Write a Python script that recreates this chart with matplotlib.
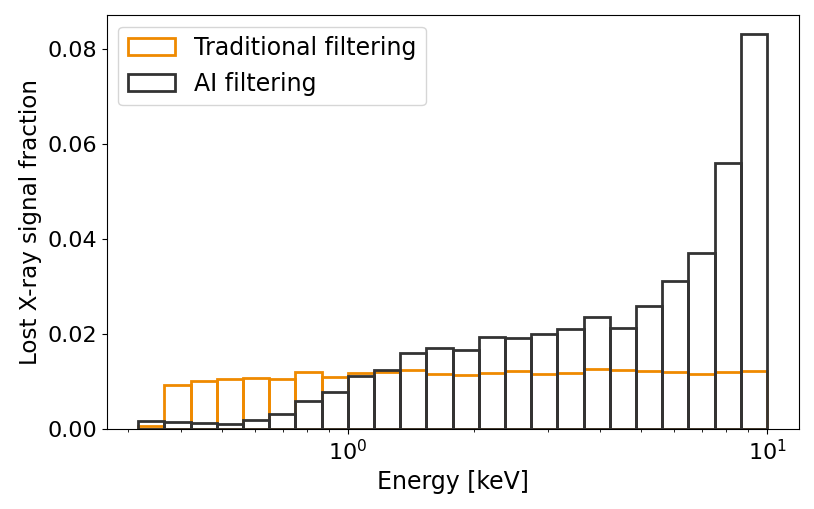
import numpy as np
import matplotlib
matplotlib.use('Agg')
import matplotlib.pyplot as plt

# log-spaced energy bins, 0.316 .. 10 keV
bin_edges = np.logspace(-0.5, 1, 25)
centers = np.sqrt(bin_edges[:-1] * bin_edges[1:])

trad = [0.0007, 0.0093, 0.0102, 0.0105, 0.0107, 0.0105, 0.0120, 0.0110,
        0.0117, 0.0120, 0.0125, 0.0115, 0.0113, 0.0119, 0.0122, 0.0115,
        0.0119, 0.0127, 0.0125, 0.0123, 0.0121, 0.0115, 0.0121, 0.0123]
ai = [0.0018, 0.0014, 0.0013, 0.0011, 0.0019, 0.0032, 0.0059, 0.0077,
      0.0111, 0.0124, 0.0161, 0.0170, 0.0166, 0.0193, 0.0192, 0.0199,
      0.0210, 0.0235, 0.0212, 0.0258, 0.0311, 0.0371, 0.0559, 0.0830]

plt.rcParams['font.size'] = 16
fig, ax = plt.subplots(figsize=(8.14, 5.09), dpi=100)

ax.hist(centers, bins=bin_edges, weights=trad, fill=False,
        edgecolor='#ef8a00', linewidth=2, label='Traditional filtering')
ax.hist(centers, bins=bin_edges, weights=ai, fill=False,
        edgecolor='#333333', linewidth=2, label='AI filtering')

ax.set_xscale('log')
ax.set_xlabel('Energy [keV]', fontsize=17)
ax.set_ylabel('Lost X-ray signal fraction', fontsize=16.6)
ax.set_yticks([0, 0.02, 0.04, 0.06, 0.08])
ax.legend(loc='upper left', fontsize=17)

fig.subplots_adjust(left=0.131, right=0.981, top=0.971, bottom=0.157)
fig.savefig('out.png', dpi=100)
